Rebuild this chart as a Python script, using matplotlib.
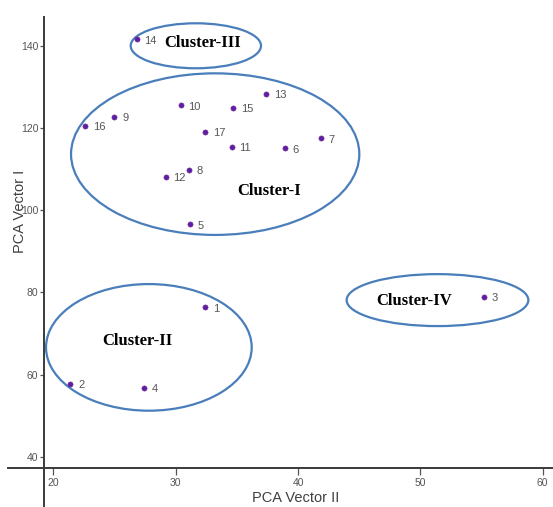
import matplotlib
matplotlib.use("Agg")
import matplotlib.pyplot as plt
from matplotlib.patches import Ellipse

# Data
labels = ["1", "2", "3", "4", "5", "6", "7", "8", "9", "10", "11", "12", "13", "14", "15", "16", "17"]
pca_vector_ii = [32.4, 21.4, 55.2, 27.4, 31.2, 38.9, 41.9, 31.1, 25.0, 30.4, 34.6, 29.2, 37.4, 26.8, 34.7, 22.6, 32.4]
pca_vector_i = [76.4, 57.7, 78.9, 56.8, 96.6, 115.1, 117.5, 109.8, 122.7, 125.6, 115.4, 108.2, 128.4, 141.6, 125.0, 120.5, 119.1]

cluster_names = ["Cluster-I", "Cluster-II", "Cluster-III", "Cluster-IV"]
cluster_center_x = [33.23, 27.81, 31.65, 51.40]
cluster_center_y = [113.67, 66.62, 140.05, 78.13]
cluster_width = [23.56, 16.81, 10.65, 14.85]
cluster_height = [39.34, 30.83, 10.95, 12.65]
cluster_label_x = [37.65, 26.88, 32.24, 49.5]
cluster_label_y = [104.7, 68.2, 140.7, 77.96]

xticks = [20, 30, 40, 50, 60]
yticks = [40, 60, 80, 100, 120, 140]

W, H = 553, 507
fig = plt.figure(figsize=(W / 100, H / 100), dpi=100)
left_px, bottom_px, top_px = 44, 468.3, 16.7
ax = fig.add_axes([left_px / W, (H - bottom_px) / H, (W - left_px) / W, (bottom_px - top_px) / H])
ax.set_xlim(19.24, 60.84)
ax.set_ylim(37.18, 147.13)

for s in ax.spines.values():
    s.set_visible(False)

axis_color = "#3a3a3a"
ah = bottom_px - top_px
aw = W - left_px
# crossing axis lines
ax.plot([0, 0], [-(H - bottom_px) / ah, 1], transform=ax.transAxes, color=axis_color, lw=1.4, clip_on=False)
ax.plot([-(left_px - 8) / aw, 1], [0, 0], transform=ax.transAxes, color=axis_color, lw=1.4, clip_on=False)

ax.set_xticks(xticks)
ax.set_yticks(yticks)
ax.tick_params(axis="x", length=5, width=0.9, color="#555555", labelsize=7.5, labelcolor="#555555", pad=2)
ax.tick_params(axis="y", length=3, width=0.9, color="#555555", labelsize=7.5, labelcolor="#555555", pad=1)
for lab in ax.get_xticklabels() + ax.get_yticklabels():
    lab.set_family(["Liberation Sans", "DejaVu Sans"])

ax.scatter(pca_vector_ii, pca_vector_i, s=14, color="#5a1fa8", edgecolors="#7a2a8a", linewidths=0.4, zorder=3)
for lx, ly, t in zip(pca_vector_ii, pca_vector_i, labels):
    ax.annotate(t, (lx, ly), xytext=(5.5, -1), textcoords="offset points", ha="left", va="center",
                fontsize=8, color="#555555", family=["Liberation Sans", "DejaVu Sans"])

for cx, cy, w, h in zip(cluster_center_x, cluster_center_y, cluster_width, cluster_height):
    ax.add_patch(Ellipse((cx, cy), w, h, fill=False, edgecolor="#4a7ebb", lw=1.6, zorder=2))
for name, tx, ty in zip(cluster_names, cluster_label_x, cluster_label_y):
    ax.text(tx, ty, name, ha="center", va="center", fontsize=12, fontweight="bold",
            family=["Liberation Serif", "DejaVu Serif"], color="black")

fig.text(296 / W, 1 - 498 / H, "PCA Vector II", ha="center", va="center", fontsize=10.5,
         color="#404040", family=["Liberation Sans", "DejaVu Sans"])
fig.text(20 / W, 1 - 211 / H, "PCA Vector I", ha="center", va="center", rotation=90, fontsize=10.5,
         color="#404040", family=["Liberation Sans", "DejaVu Sans"])

fig.savefig("out.png", dpi=100)
